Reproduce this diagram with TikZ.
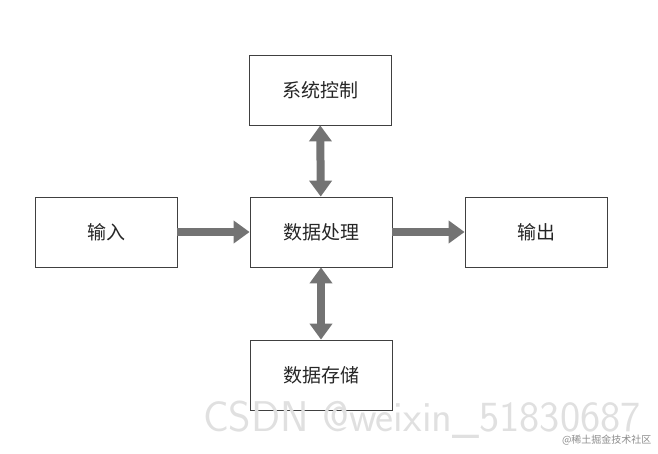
\documentclass[tikz,border=0pt]{standalone}
\usepackage{fontspec}
\setmainfont{Noto Sans CJK SC}
\usetikzlibrary{arrows.meta}
\begin{document}
\begin{tikzpicture}[x=1pt,y=-1pt,
  box/.style={draw=black!75,line width=0.8pt,minimum width=142pt,minimum height=70pt,font=\fontsize{19}{21}\selectfont,text=black!85},
  big/.style={draw=black!55,line width=8pt,-{Triangle[width=22pt,length=16pt]}},
  bigb/.style={draw=black!55,line width=8pt,{Triangle[width=22pt,length=16pt]}-{Triangle[width=22pt,length=16pt]}}]
\useasboundingbox (0,0) rectangle (658,453);
\node[box] (top) at (320,90) {系统控制};
\node[box] (mid) at (321,232) {数据处理};
\node[box] (in) at (106,232) {输入};
\node[box] (out) at (536,232) {输出};
\node[box] (bot) at (321,375) {数据存储};
\draw[big] (in) -- (mid);
\draw[big] (mid) -- (out);
\draw[bigb] (top) -- (mid);
\draw[bigb] (mid) -- (bot);
\node[text=black!12,font=\fontsize{43}{45}\selectfont\sffamily] (wm) at (422,420) {CSDN @weixin\_51830687};
\node[text=black!45,font=\fontsize{10}{12}\selectfont,anchor=east] (wm2) at (655,440) {@稀土掘金技术社区};
\end{tikzpicture}
\end{document}
